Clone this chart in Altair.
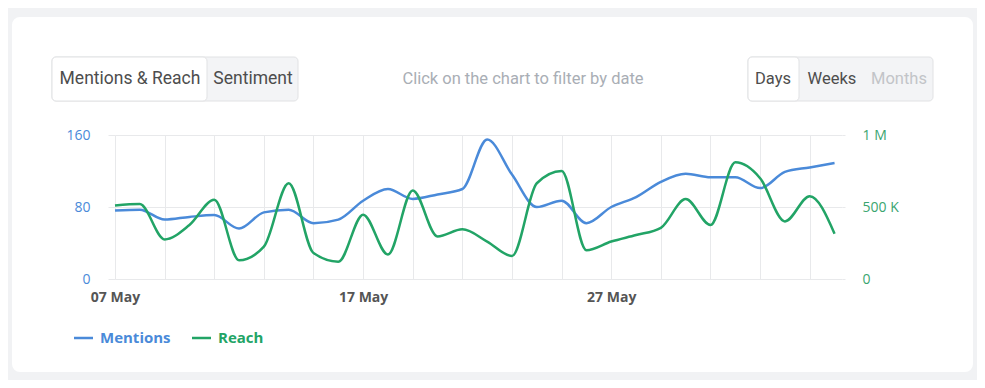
import altair as alt
import pandas as pd

# ---- data ----
dates = ["07 May", "08 May", "09 May", "10 May", "11 May", "12 May", "13 May", "14 May",
         "15 May", "16 May", "17 May", "18 May", "19 May", "20 May", "21 May", "22 May",
         "23 May", "24 May", "25 May", "26 May", "27 May", "28 May", "29 May", "30 May",
         "31 May", "01 Jun", "02 Jun", "03 Jun", "04 Jun", "05 Jun"]
mentions = [76, 77, 66, 69, 71, 56, 74, 77, 62, 66, 87, 100, 89, 94, 100, 155, 116, 80,
            87, 62, 80, 91, 108, 117, 113, 113, 101, 119, 124, 129]
reach = [510000, 520000, 275000, 375000, 550000, 130000, 225000, 665000, 180000, 120000,
         447000, 170000, 615000, 295000, 345000, 260000, 160000, 665000, 750000, 200000,
         260000, 305000, 355000, 555000, 375000, 810000, 700000, 400000, 575000, 315000]
mention_ticks = [0, 80, 160]
reach_ticks = [0, 500000, 1000000]
series_names = ["Mentions", "Reach"]
tab_left = ["Mentions & Reach", "Sentiment"]
tab_right = ["Days", "Weeks", "Months"]
hint = "Click on the chart to filter by date"

BLUE = "#4a8ad9"
GREEN = "#22a466"
GRID = "#e8e9eb"
BG = "#f1f2f4"

df = pd.DataFrame({"day": list(range(len(dates))), "date": dates,
                   "mentions": mentions, "reach": reach})

label_map = "{" + ",".join(f"'{i}':'{d}'" for i, d in enumerate(dates) if i % 10 == 0) + "}"
x_axis = alt.Axis(values=list(range(0, 30, 2)), grid=True, gridColor=GRID, ticks=False,
                  domain=False, title=None, labelFontWeight="bold", labelColor="#555555",
                  labelFontSize=14, labelFont="Open Sans", labelPadding=11, labelFlush=False,
                  labelAlign="center",
                  labelExpr=f"datum.value % 10 == 0 ? {label_map}[''+datum.value] : ''")
x_enc = alt.X("day:Q", scale=alt.Scale(domain=[0, 29.3], nice=False, zero=False), axis=x_axis)

line_m = alt.Chart(df).mark_line(color=BLUE, strokeWidth=2.5, interpolate="monotone").encode(
    x=x_enc,
    y=alt.Y("mentions:Q", scale=alt.Scale(domain=[0, 160], nice=False),
            axis=alt.Axis(orient="left", values=mention_ticks, grid=True, gridColor=GRID,
                          domain=False, ticks=True, tickColor=GRID, tickSize=7,
                          labelPadding=18, labelAlign="right", labelBaseline="middle",
                          labelFlush=False, labelColor=BLUE, labelFontSize=14,
                          labelFont="Open Sans", title=None))
)

reach_expr = ("datum.value >= 1000000 ? '1 M' : (datum.value >= 500000 ? '500 K' : '0')")
line_r = alt.Chart(df).mark_line(color=GREEN, strokeWidth=2.5, interpolate="monotone").encode(
    x=x_enc,
    y=alt.Y("reach:Q", scale=alt.Scale(domain=[0, 1000000], nice=False),
            axis=alt.Axis(orient="right", values=reach_ticks, grid=False, domain=False,
                          tickColor=GRID, tickSize=3, labelPadding=17, labelAlign="left",
                          labelBaseline="middle", labelFlush=False, labelColor="#3aa56f",
                          labelFontSize=14, labelFont="Open Sans", title=None,
                          labelExpr=reach_expr))
)

one = pd.DataFrame({"a": [0]})


def rect(x, x2, y, y2, fill, stroke=None, sw=1, r=0, fo=1):
    kw = dict(fill=fill, cornerRadius=r, fillOpacity=fo)
    if stroke:
        kw.update(stroke=stroke, strokeWidth=sw)
    return alt.Chart(one).mark_rect(**kw).encode(
        x=alt.value(x), x2=alt.value(x2), y=alt.value(y), y2=alt.value(y2))


def txt(t, x, y, color, size, weight="normal", align="center", font="Roboto"):
    return alt.Chart(one).mark_text(text=t, align=align, baseline="middle", fontSize=size,
                                    fontWeight=weight, color=color, font=font).encode(
        x=alt.value(x), y=alt.value(y))


# card frame (grey surroundings with rounded inner corners)
frame = rect(-123, 878, -138, 257, BG, stroke=BG, sw=40, r=28, fo=0)

tabs_l = [
    rect(-63, 183, -78, -34, "#f3f4f6", stroke="#e1e2e4", r=4),
    rect(-63, 92, -78, -34, "#ffffff", stroke="#e1e2e4", r=4),
    txt(tab_left[0], 15, -56, "#4d4d4d", 17.5),
    txt(tab_left[1], 138, -56, "#4d4d4d", 17.5),
]
tabs_r = [
    rect(633, 818, -78, -34, "#f3f4f6", stroke="#e1e2e4", r=4),
    rect(633, 684, -78, -34, "#ffffff", stroke="#e1e2e4", r=4),
    txt(tab_right[0], 658, -56, "#4d4d4d", 16.5),
    txt(tab_right[1], 717, -56, "#4d4d4d", 16.5),
    txt(tab_right[2], 784, -56, "#c2c4c8", 16.5),
]
hint_t = txt(hint, 408, -56, "#a9aeb5", 16.5)

legend = [
    alt.Chart(one).mark_rule(color=BLUE, strokeWidth=2.5).encode(
        x=alt.value(-41), x2=alt.value(-22), y=alt.value(203)),
    txt(series_names[0], -15, 203, BLUE, 15, "bold", "left", "Open Sans"),
    alt.Chart(one).mark_rule(color=GREEN, strokeWidth=2.5).encode(
        x=alt.value(77), x2=alt.value(96), y=alt.value(203)),
    txt(series_names[1], 103, 203, GREEN, 15, "bold", "left", "Open Sans"),
]

chart = alt.layer(
    line_m, line_r, frame, *tabs_l, *tabs_r, hint_t, *legend
).resolve_scale(y="independent").properties(
    width=727, height=144,
    autosize=alt.AutoSizeParams(type="none"),
    padding={"left": 107, "top": 127, "right": 135, "bottom": 101},
    background="#ffffff",
).configure_view(stroke=None)

chart.save("out.html", embed_options={"renderer": "svg", "actions": False})
